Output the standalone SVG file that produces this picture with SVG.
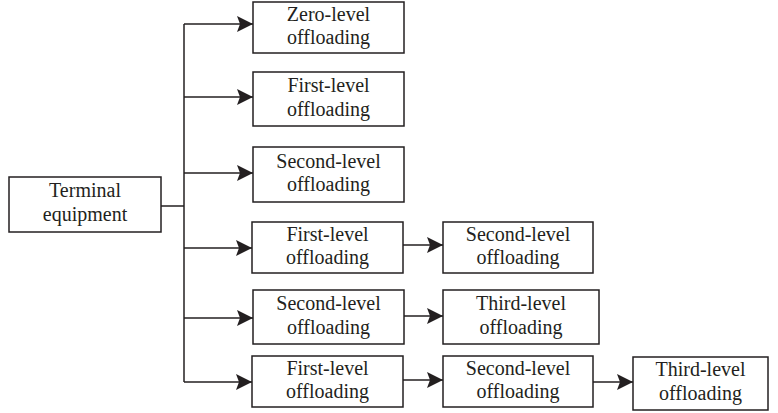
<svg xmlns="http://www.w3.org/2000/svg" width="778" height="413" viewBox="0 0 778 413">
<defs>
<style>
.box{fill:#fff;stroke:#231f20;stroke-width:1.5}
.ln{fill:none;stroke:#231f20;stroke-width:1.5}
text{font-family:"Liberation Serif","Times New Roman",serif;font-size:20px;fill:#231f20;text-anchor:middle}
</style>
<marker id="ah" markerUnits="userSpaceOnUse" markerWidth="17" markerHeight="16" refX="16" refY="8" orient="auto">
<path d="M0,0 L16,8 L0,16 L3,8 Z" fill="#231f20"/>
</marker>
</defs>
<rect width="778" height="413" fill="#fff"/>
<g id="connectors">
<path class="ln" d="M184,24 V382"/>
<path class="ln" d="M161,206 H184"/>
<path class="ln" d="M184,24 H253" marker-end="url(#ah)"/>
<path class="ln" d="M184,97 H253" marker-end="url(#ah)"/>
<path class="ln" d="M184,173 H253" marker-end="url(#ah)"/>
<path class="ln" d="M184,248 H252" marker-end="url(#ah)"/>
<path class="ln" d="M184,318 H253" marker-end="url(#ah)"/>
<path class="ln" d="M184,382 H252" marker-end="url(#ah)"/>
<path class="ln" d="M403,245 H443" marker-end="url(#ah)"/>
<path class="ln" d="M404,316 H443" marker-end="url(#ah)"/>
<path class="ln" d="M403,380 H443" marker-end="url(#ah)"/>
<path class="ln" d="M593,382 H633" marker-end="url(#ah)"/>
</g>
<g id="terminal">
<rect class="box" x="9" y="177" width="152" height="55"/>
<text x="85" y="197">Terminal</text>
<text x="85" y="221">equipment</text>
</g>
<g id="zero">
<rect class="box" x="253" y="2" width="151" height="51"/>
<text x="328.5" y="21">Zero-level</text>
<text x="328.5" y="44">offloading</text>
</g>
<g id="first">
<rect class="box" x="253" y="72" width="151" height="54"/>
<text x="328.5" y="92">First-level</text>
<text x="328.5" y="116">offloading</text>
</g>
<g id="second">
<rect class="box" x="253" y="147" width="151" height="55"/>
<text x="328.5" y="168">Second-level</text>
<text x="328.5" y="191">offloading</text>
</g>
<g id="r4a">
<rect class="box" x="252" y="222" width="151" height="51"/>
<text x="327.5" y="241">First-level</text>
<text x="327.5" y="264">offloading</text>
</g>
<g id="r4b">
<rect class="box" x="443" y="222" width="150" height="51"/>
<text x="518" y="241">Second-level</text>
<text x="518" y="264">offloading</text>
</g>
<g id="r5a">
<rect class="box" x="253" y="290" width="151" height="54"/>
<text x="328.5" y="310">Second-level</text>
<text x="328.5" y="334">offloading</text>
</g>
<g id="r5b">
<rect class="box" x="443" y="290" width="156" height="54"/>
<text x="521" y="310">Third-level</text>
<text x="521" y="334">offloading</text>
</g>
<g id="r6a">
<rect class="box" x="252" y="356" width="151" height="51"/>
<text x="327.5" y="375">First-level</text>
<text x="327.5" y="398">offloading</text>
</g>
<g id="r6b">
<rect class="box" x="443" y="356" width="150" height="51"/>
<text x="518" y="375">Second-level</text>
<text x="518" y="398">offloading</text>
</g>
<g id="r6c">
<rect class="box" x="633" y="357" width="135" height="53"/>
<text x="700.5" y="376">Third-level</text>
<text x="700.5" y="400">offloading</text>
</g>
</svg>
